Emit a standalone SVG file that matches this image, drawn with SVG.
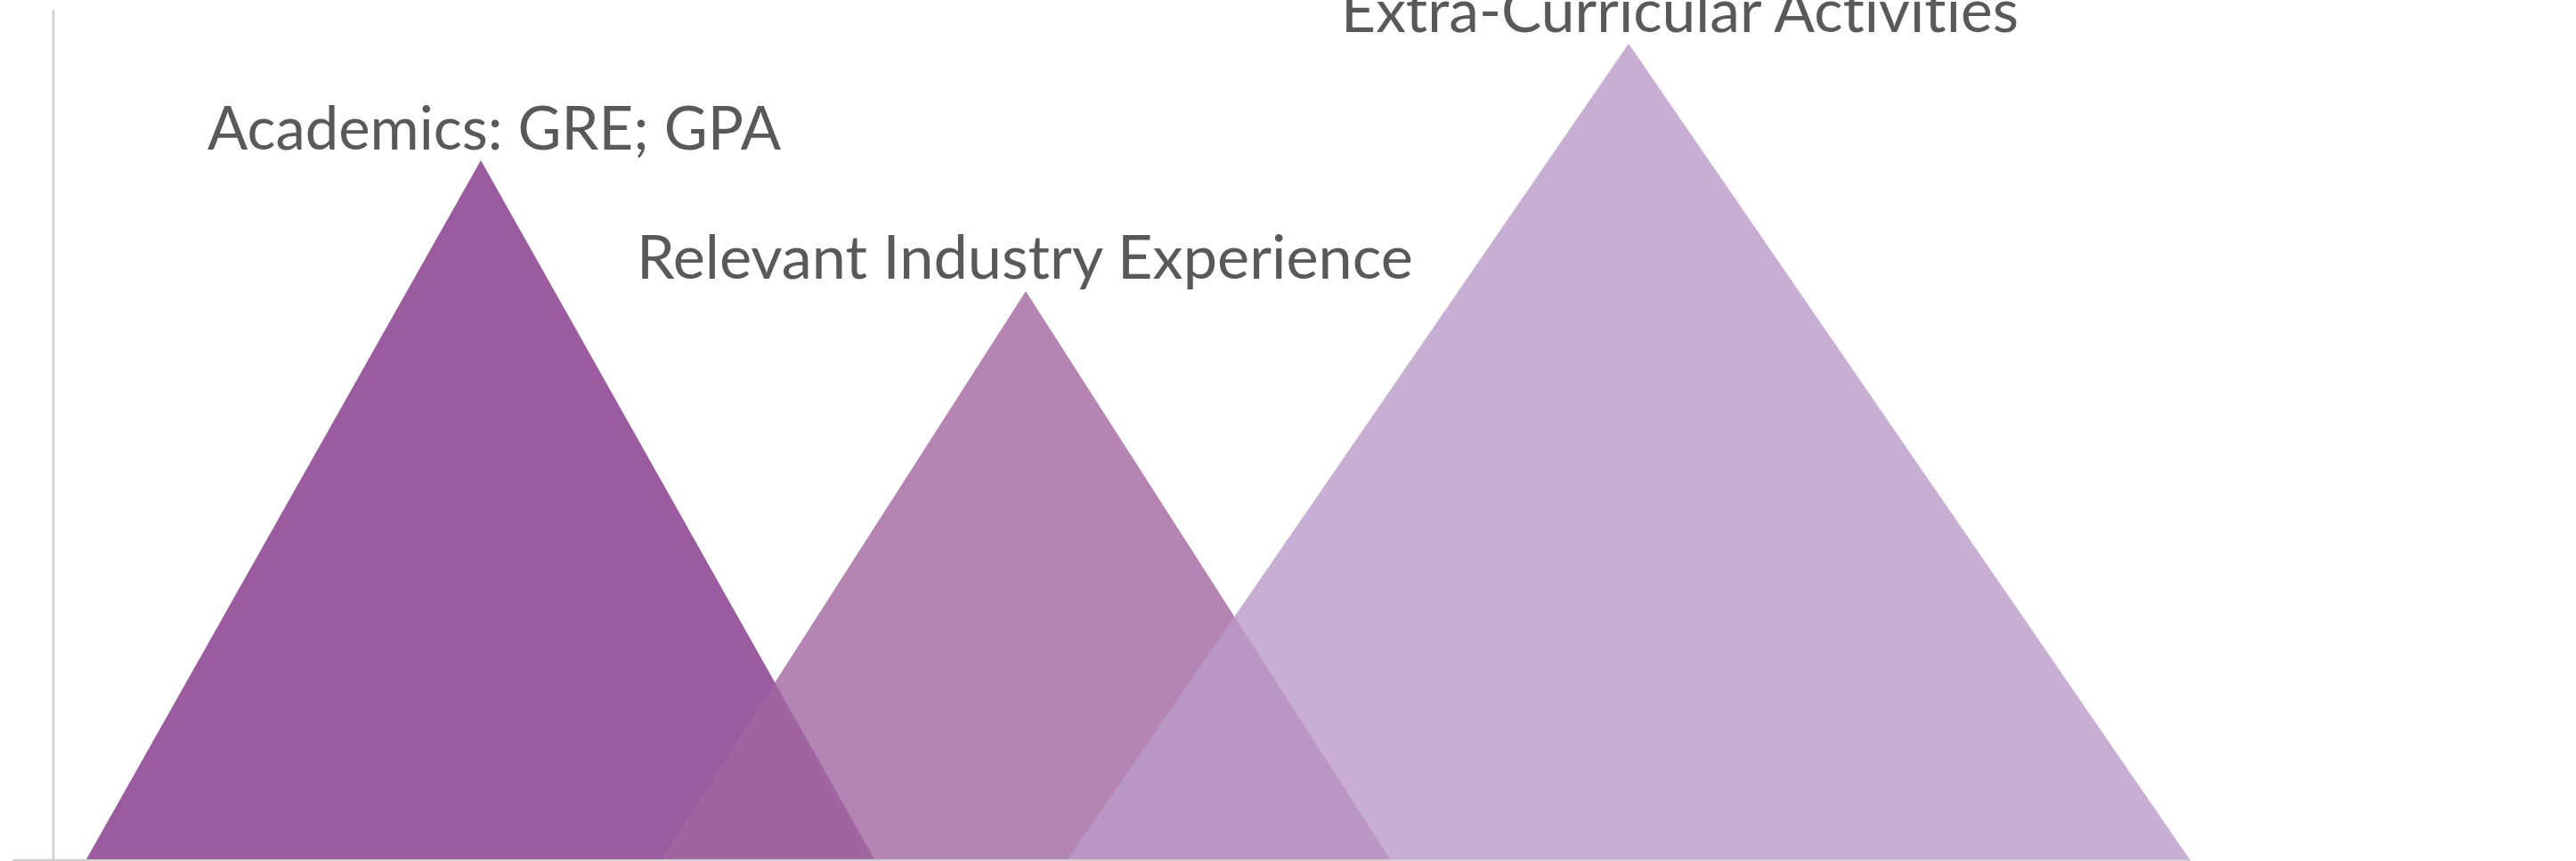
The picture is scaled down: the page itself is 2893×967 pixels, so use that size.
<svg xmlns="http://www.w3.org/2000/svg" width="2893" height="967" viewBox="0 0 2893 967">
<style>
.lbl{font-family:Lato,"Open Sans","Liberation Sans",sans-serif;font-size:68px;fill:#595959;font-variant-ligatures:none}
.axis{stroke:#CFCFCF;stroke-width:2.5;fill:none}
</style>
<rect width="2893" height="967" fill="#FFFFFF"/>
<g id="axes">
<line class="axis" x1="60" y1="11" x2="60" y2="966"/>
<line class="axis" x1="14" y1="966" x2="2460" y2="966"/>
</g>
<g id="academics">
<polygon points="97,965 540,180 982,965" fill="#9B5C9F"/>
<text class="lbl" x="233" y="168" textLength="644" lengthAdjust="spacingAndGlyphs">Academics: GRE; GPA</text>
</g>
<g id="industry">
<polygon points="743,965 1152,327 1561,965" fill="#A166A0" fill-opacity="0.8"/>
<text class="lbl" x="715" y="313" textLength="872" lengthAdjust="spacingAndGlyphs">Relevant Industry Experience</text>
</g>
<g id="extracurricular">
<polygon points="1199,965 1829,49 2459,965" fill="#BA9AC8" fill-opacity="0.8"/>
<text class="lbl" x="1506" y="36" textLength="761" lengthAdjust="spacingAndGlyphs">Extra-Curricular Activities</text>
</g>
<g id="connectors"></g>
</svg>
